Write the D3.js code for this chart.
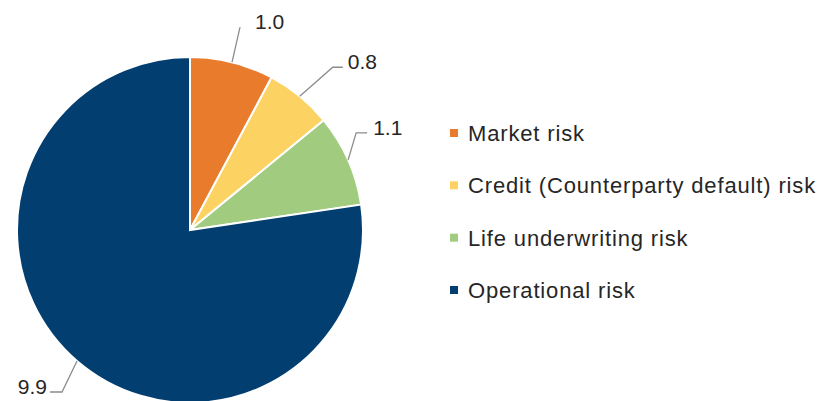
<!DOCTYPE html>
<html>
<head>
<meta charset="utf-8">
<script src="https://cdn.jsdelivr.net/npm/d3@7"></script>
<style>
  body { margin: 0; background: #fff; }
  text { font-family: "Liberation Sans", Arial, sans-serif; fill: #262626; }
</style>
</head>
<body>
<div id="chart"></div>
<script>
const categories = ['Market risk', 'Credit (Counterparty default) risk', 'Life underwriting risk', 'Operational risk'];
const values = [1.0, 0.8, 1.1, 9.9];
const colors = ['#E97B2C', '#FCD262', '#A1CB7F', '#023E70'];

// hand placed leader lines, like the original (elbow offset from slice edge, hook length, text gap)
const labelLayout = [
    {dx: 8, dy: -35, hook: 0, gap: 15},
    {dx: 33, dy: -29, hook: 10, gap: 5},
    {dx: 8, dy: -27, hook: 11, gap: 6},
    {dx: -15, dy: 31, hook: -12, gap: 3}
];

const width = 819, height = 401;
const radius = 173, cx = 190, cy = 230;

const svg = d3.select('#chart').append('svg')
    .attr('width', width)
    .attr('height', height);

const g = svg.append('g')
    .attr('transform', `translate(${cx},${cy})`);

const pie = d3.pie().sort(null).value(d => d);
const arcs = pie(values);

const arc = d3.arc().innerRadius(0).outerRadius(radius);

g.selectAll('.slice')
    .data(arcs)
  .enter().append('path')
    .attr('class', 'slice')
    .attr('d', arc)
    .attr('fill', (d, i) => colors[i])
    .attr('stroke', '#fff')
    .attr('stroke-width', 2);

// leader lines + value labels
arcs.forEach((d, i) => {
    const a = (d.startAngle + d.endAngle) / 2;
    const sx = Math.sin(a) * radius, sy = -Math.cos(a) * radius;
    const L = labelLayout[i];
    const ex = sx + L.dx, ey = sy + L.dy;
    const hx = ex + L.hook;
    g.append('path')
        .attr('d', d3.line()([[sx, sy], [ex, ey], [hx, ey]]))
        .attr('fill', 'none')
        .attr('stroke', '#8c8c8c')
        .attr('stroke-width', 1.3);
    const right = L.hook >= 0;
    g.append('text')
        .attr('x', right ? hx + L.gap : hx - L.gap)
        .attr('y', ey + 2)
        .attr('text-anchor', right ? 'start' : 'end')
        .style('font-size', '21px')
        .text(d3.format('.1f')(values[i]));
});

// legend
const legendY = d3.scalePoint()
    .domain(categories)
    .range([133, 290]);

const legend = svg.selectAll('.legend')
    .data(categories)
  .enter().append('g')
    .attr('class', 'legend')
    .attr('transform', d => `translate(450,${legendY(d)})`);

legend.append('rect')
    .attr('x', 0)
    .attr('y', -4)
    .attr('width', 8)
    .attr('height', 8)
    .attr('fill', (d, i) => colors[i]);

legend.append('text')
    .attr('x', 18)
    .attr('dy', '0.36em')
    .style('font-size', '22px')
    .style('letter-spacing', '0.85px')
    .text(d => d);
</script>
</body>
</html>
